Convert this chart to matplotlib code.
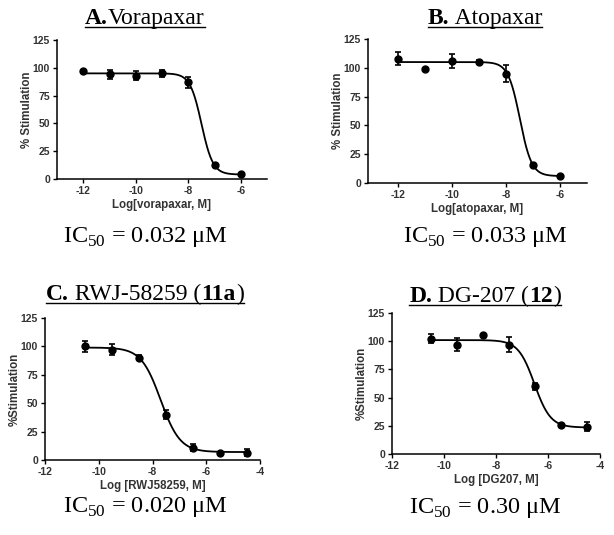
import numpy as np
import matplotlib
matplotlib.use("Agg")
import matplotlib.pyplot as plt
from matplotlib.lines import Line2D

plt.rcParams['font.family'] = ['Liberation Sans', 'DejaVu Sans']
plt.rcParams['mathtext.fontset'] = 'custom'
plt.rcParams['mathtext.rm'] = 'Liberation Serif'
plt.rcParams['axes.unicode_minus'] = False

# --- DATA ---
x_ab = [-12, -11, -10, -9, -8, -7, -6]
x_cd = [-10.5, -9.5, -8.5, -7.5, -6.5, -5.5, -4.5]

vora_y = [97, 94, 93, 95, 87, 13, 4.5]
vora_err = [1, 4, 4, 3, 5, 1, 1]
atop_y = [108, 99, 106, 105, 95, 16, 6]
atop_err = [6, 0, 6, 2, 7, 1, 1]
rwj_y = [100, 97, 90, 40, 11, 6, 6.5]
rwj_err = [5, 5, 2, 4, 3, 1, 3]
dg_y = [102, 97, 105.5, 97, 60, 25.5, 24]
dg_err = [4, 6, 0, 7, 3, 1, 4]

# 4PL fit parameters: top, bottom, logIC50, hill
vora_fit = (95, 4, np.log10(0.032e-6), 2.0)
atop_fit = (105, 6, np.log10(0.033e-6), 2.0)
rwj_fit = (99, 7, np.log10(0.020e-6), 1.2)
dg_fit = (101, 23.5, np.log10(0.30e-6), 1.4)

titles = [
    [("A.", "bold"), ("Vorapaxar", "normal")],
    [("B.", "bold"), (" Atopaxar", "normal")],
    [("C.", "bold"), (" RWJ-58259 (", "normal"), ("11a", "bold"), (")", "normal")],
    [("D.", "bold"), (" DG-207 (", "normal"), ("12", "bold"), (")", "normal")],
]
ic50_labels = ["0.032", "0.033", "0.020", "0.30"]
xlabels = ["Log[vorapaxar, M]", "Log[atopaxar, M]", "Log [RWJ58259, M]", "Log [DG207, M]"]
ylabels = ["% Stimulation", "% Stimulation", "%Stimulation", "%Stimulation"]

W, H = 614, 535
fig = plt.figure(figsize=(W / 100, H / 100), dpi=100)

# axes boxes in pixels: left, right, top, bottom
boxes = [(57, 267, 40, 179), (368, 587, 39, 183), (45, 260, 318, 460), (392, 600, 313, 454)]
xlims = [(-13, -5), (-13.1, -5), (-12, -4), (-12, -4)]
xticks = [[-12, -10, -8, -6], [-12, -10, -8, -6], [-12, -10, -8, -6, -4], [-12, -10, -8, -6, -4]]
title_pos = [(145, 17), (485, 17), (145, 293), (485, 295)]
ic50_pos = [(145, 237), (485, 237), (145, 507), (485, 508)]

series = [(x_ab, vora_y, vora_err, vora_fit), (x_ab, atop_y, atop_err, atop_fit),
          (x_cd, rwj_y, rwj_err, rwj_fit), (x_cd, dg_y, dg_err, dg_fit)]

tick_col = '#333333'
for i, (l, r, t, b) in enumerate(boxes):
    ax = fig.add_axes([l / W, 1 - b / H, (r - l) / W, (b - t) / H])
    xs, ys, es, (top, bot, c, h) = series[i]
    xx = np.linspace(xs[0], xs[-1], 300)
    ax.plot(xx, bot + (top - bot) / (1 + 10 ** ((xx - c) * h)), color='black', lw=1.3)
    ax.errorbar(xs, ys, yerr=es, fmt='o', color='black', ms=5, elinewidth=1.2,
                capsize=2.5, capthick=1.2)
    ax.set_xlim(*xlims[i])
    ax.set_ylim(0, 125)
    ax.set_xticks(xticks[i])
    ax.set_yticks([0, 25, 50, 75, 100, 125])
    for s in ['top', 'right']:
        ax.spines[s].set_visible(False)
    for s in ['left', 'bottom']:
        ax.spines[s].set_linewidth(1.1)
    ax.tick_params(length=3, width=1.0, labelsize=7.5, labelcolor=tick_col, pad=2)
    for lab in ax.get_xticklabels() + ax.get_yticklabels():
        lab.set_fontweight('bold')
    ax.set_xlabel(xlabels[i], fontsize=8.3, fontweight='bold', color=tick_col, labelpad=2)
    ax.set_ylabel(ylabels[i], fontsize=8.3, fontweight='bold', color=tick_col, labelpad=0)

# titles with mixed weights and underline
fig.canvas.draw()
renderer = fig.canvas.get_renderer()
for segs, (cx, cy) in zip(titles, title_pos):
    texts = []
    widths = []
    for s, w in segs:
        tx = fig.text(0, 0, s, fontsize=17, fontweight=w, family='Liberation Serif',
                      ha='left', va='baseline')
        bb = tx.get_window_extent(renderer)
        texts.append(tx)
        widths.append(bb.width)
    total = sum(widths)
    x0 = cx - total / 2
    base = cy + 7
    xpos = x0
    for tx, wdt in zip(texts, widths):
        tx.set_position((xpos / W, 1 - base / H))
        xpos += wdt
    fig.add_artist(Line2D([x0 / W, (x0 + total) / W], [1 - (base + 2.5) / H] * 2,
                          color='black', lw=1.0))

for lab, (cx, cy) in zip(ic50_labels, ic50_pos):
    fig.text(cx / W, 1 - cy / H, r'IC$_{\mathrm{50}}$ = ' + lab + ' \u03bcM', fontsize=17.5,
             family='Liberation Serif', ha='center', va='center')

fig.savefig("out.png", dpi=100)
